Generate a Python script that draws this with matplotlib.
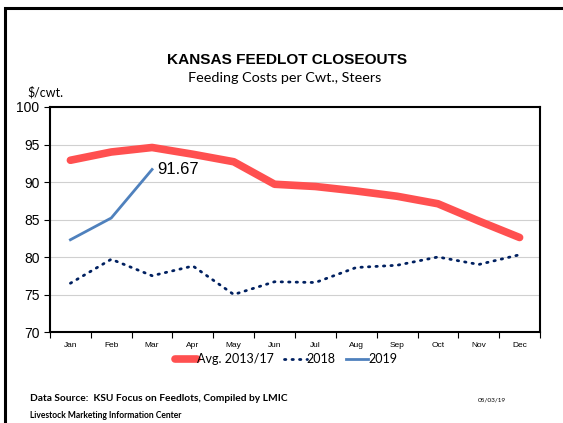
"""Kansas feedlot closeouts: feeding costs per cwt, steers."""

import matplotlib

matplotlib.use("Agg")

import matplotlib.pyplot as plt
from matplotlib.patches import Rectangle

months = ["Jan", "Feb", "Mar", "Apr", "May", "Jun", "Jul", "Aug", "Sep", "Oct", "Nov", "Dec"]
avg_2013_17 = [92.9, 94.0, 94.6, 93.7, 92.7, 89.7, 89.4, 88.8, 88.1, 87.1, 84.8, 82.6]
y2018 = [76.5, 79.7, 77.5, 78.8, 75.0, 76.7, 76.6, 78.6, 78.9, 80.0, 79.0, 80.3]
y2019 = [82.3, 85.2, 91.67]

W, H = 563, 423
fig = plt.figure(figsize=(W / 100, H / 100), dpi=100)
ax = fig.add_axes([50 / W, 1 - 332 / H, (540 - 50) / W, (332 - 107) / H])

x = list(range(len(months)))
ax.plot(x, avg_2013_17, color="#FF5050", lw=5.5, solid_capstyle="round", label="Avg. 2013/17", zorder=3)
ax.plot(x, y2018, color="#002060", lw=2.0, linestyle=(0, (0.5, 2.2)), dash_capstyle="round",
        label="2018", zorder=3)
ax.plot(x[:len(y2019)], y2019, color="#4F81BD", lw=2.0, label="2019", zorder=4)
ax.annotate("{0:.2f}".format(y2019[-1]), (x[len(y2019) - 1], y2019[-1]), xytext=(4, 0),
            textcoords="offset points", va="center", fontsize=12, family="Liberation Sans")

ax.set_xlim(-0.5, len(months) - 0.5)
ax.set_ylim(70, 100)
ax.set_yticks(range(70, 101, 5))
ax.set_xticks(x)
ax.set_xticklabels(months, fontsize=6, family="Liberation Sans")
ax.set_xticks([i + 0.5 for i in range(-1, len(months))], minor=True)
ax.tick_params(axis="x", which="major", length=0, pad=7)
ax.tick_params(axis="x", which="minor", length=4, width=0.8, direction="out")
ax.tick_params(axis="y", length=4, width=0.8, direction="out", labelsize=10)
for lab in ax.get_yticklabels():
    lab.set_family("Liberation Sans")
ax.grid(axis="y", color="#D0D0D0", lw=0.8, zorder=0)
for s in ax.spines.values():
    s.set_linewidth(1.5)

ax.legend(loc="upper center", bbox_to_anchor=(0.482, -0.045), ncol=3, frameon=False,
          prop={"family": "Lato", "size": 9}, handlelength=1.8, handletextpad=0.0,
          columnspacing=0.8)

fig.text(287 / W, 1 - 60 / H, "KANSAS FEEDLOT CLOSEOUTS", ha="center", va="center",
         fontsize=11.1, fontweight="bold", family="Liberation Sans")
fig.text(285 / W, 1 - 78 / H, "Feeding Costs per Cwt., Steers", ha="center", va="center",
         fontsize=10.4, family="Lato")
fig.text(27 / W, 1 - 92 / H, "$/cwt.", ha="left", va="center", fontsize=9, family="Lato")
fig.text(30 / W, 1 - 398 / H, "Data Source:  KSU Focus on Feedlots, Compiled by LMIC", ha="left",
         va="center", fontsize=7.25, fontweight="bold", family="Lato")
fig.text(30 / W, 1 - 415 / H, "Livestock Marketing Information Center", ha="left", va="center",
         fontsize=6.15, fontweight="bold", family="Lato")
fig.text(478 / W, 1 - 400 / H, "05/03/19", ha="left", va="center", fontsize=4.6, family="Lato")

fig.patches.append(Rectangle((5 / W, -0.1), 1.2, 1.1 - 8 / H, transform=fig.transFigure,
                             fill=False, edgecolor="black", lw=2.2))

fig.savefig("out.png", dpi=100)
